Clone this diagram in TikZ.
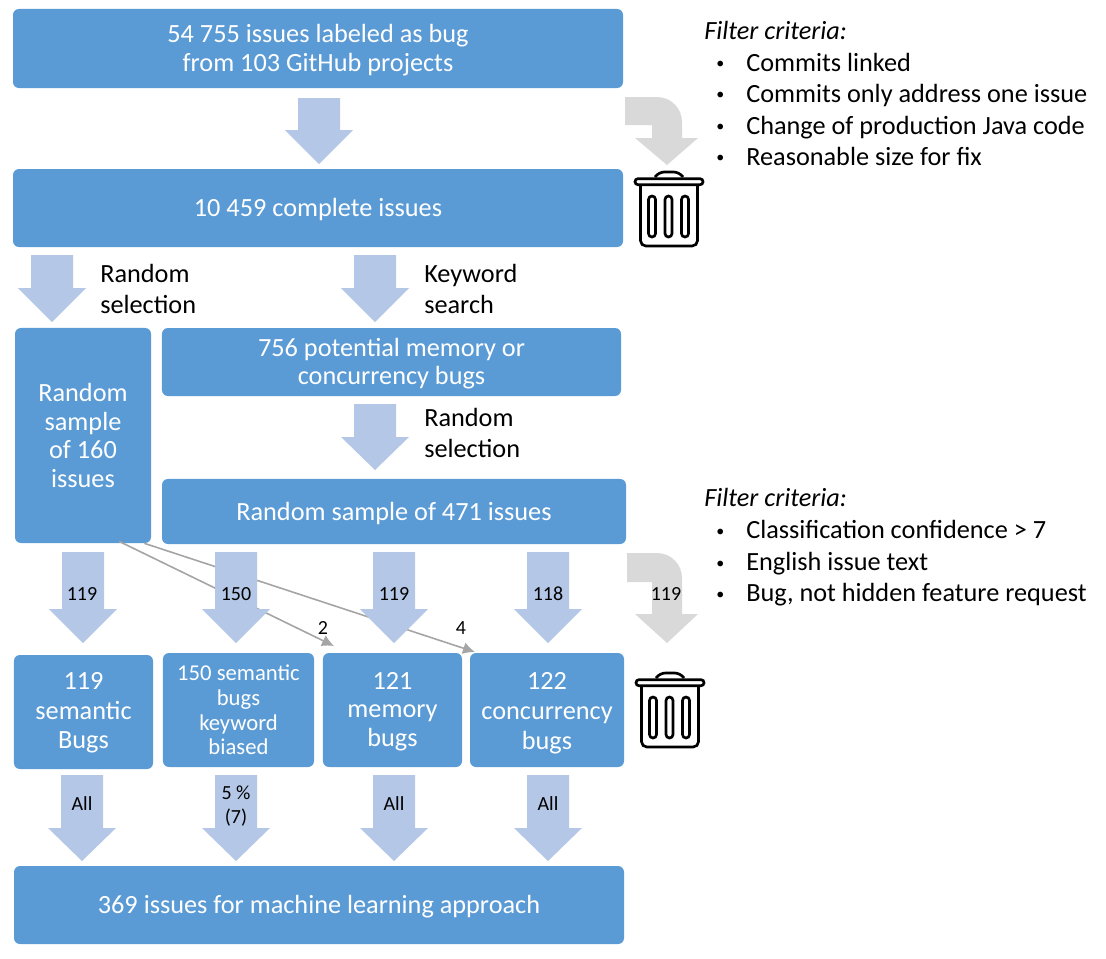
\documentclass[tikz,border=0pt]{standalone}
\usepackage{fontspec}
\setmainfont{Carlito}
\usetikzlibrary{arrows.meta}
\definecolor{boxblue}{HTML}{5B9BD5}
\definecolor{arrowblue}{HTML}{B4C7E7}
\definecolor{bingray}{HTML}{D9D9D9}
\definecolor{linegray}{HTML}{A5A5A5}
\tikzset{
  box/.style={fill=boxblue,rounded corners=4.5pt,inner sep=0pt},
  boxtext/.style={text=white,align=center,inner sep=0pt,font=\fontsize{19.7}{#1}\selectfont},
  smallboxtext/.style={text=white,align=center,inner sep=0pt,font=\fontsize{17}{18.4}\selectfont},
  blockarrow/.style={fill=arrowblue,draw=none},
  binarrow/.style={fill=bingray,draw=none},
  thin connector/.style={draw=linegray,line width=1.2pt,-{Latex[length=9pt,width=9pt]}},
  count/.style={font=\fontsize{15}{18}\selectfont,text=black,inner sep=0pt,align=center},
  side/.style={anchor=base west,inner sep=0pt,font=\fontsize{19.7}{22}\selectfont,text=black},
  dot/.style={anchor=base west,inner sep=0pt,font=\fontsize{12}{14}\selectfont,text=black},
  binline/.style={draw=black,line width=2pt,fill=none},
}
% x centre, y top, y head start, y tip
\newcommand{\blockarr}[4]{\fill[blockarrow] (#1-21,#2) -- (#1+21,#2) -- (#1+21,#3) -- (#1+34,#3) -- (#1,#4) -- (#1-34,#3) -- (#1-21,#3) -- cycle;}
% x left, y top, y shaft bottom, y head start, y tip
\newcommand{\binarr}[5]{\fill[binarrow] (#1,#2) -- (657,#2) to[out=0,in=90] (682,#2+25) -- (682,#4) -- (698,#4) -- (667,#5) -- (635,#4) -- (652,#4) -- (652,#3) -- (#1,#3) -- cycle;}
% dx dy
\newcommand{\bin}[2]{\begin{scope}[shift={(#1,#2)}]
  \draw[binline,rounded corners=2.2pt] (635,178.7) rectangle (703,184.7);
  \draw[binline,rounded corners=4pt] (655,177) -- (659,172) -- (679,172) -- (683,177);
  \draw[binline,rounded corners=4pt] (640.5,186) -- (640.5,246) -- (697.5,246) -- (697.5,186);
  \draw[binline,rounded corners=2.6pt] (648.5,196) rectangle (655.5,237);
  \draw[binline,rounded corners=2.6pt] (665,196) rectangle (672,237);
  \draw[binline,rounded corners=2.6pt] (681.5,196) rectangle (688.5,237);
\end{scope}}
\begin{document}
\begin{tikzpicture}[x=0.75pt,y=-0.75pt]
\useasboundingbox (0,0) rectangle (1106,958);
% boxes
\node[box,minimum width=457.5pt,minimum height=59.3pt,label={[boxtext=22,yshift=-1.1pt]center:{54 755 issues labeled as bug\\from 103 GitHub projects}}] (top) at (318,48.5) {};
\node[box,minimum width=457.5pt,minimum height=58.5pt,label={[boxtext=22,yshift=-0.75pt]center:{10 459 complete issues}}] (complete) at (318,208) {};
\node[box,minimum width=102pt,minimum height=161.3pt,label={[boxtext=21.4]center:{Random\\sample\\of 160\\issues}}] (rs) at (83,435.5) {};
\node[box,minimum width=344.3pt,minimum height=51pt,label={[boxtext=21,yshift=-1.1pt]center:{756 potential memory or\\concurrency bugs}}] (potential) at (391.5,362) {};
\node[box,minimum width=348pt,minimum height=48.8pt,label={[boxtext=22,yshift=-1.5pt]center:{Random sample of 471 issues}}] (rs471) at (394,511.5) {};
\node[box,minimum width=104.3pt,minimum height=85.5pt,label={[boxtext=22,yshift=-0.75pt]center:{119\\semantic\\Bugs}}] (sem) at (83.5,712) {};
\node[box,minimum width=113.3pt,minimum height=85.5pt,label={[smallboxtext]center:{150 semantic\\bugs\\keyword\\biased}}] (bias) at (238.5,710) {};
\node[box,minimum width=104.3pt,minimum height=85.5pt,label={[boxtext=21.5,yshift=-1.1pt]center:{121\\memory\\bugs}}] (mem) at (392.5,710) {};
\node[box,minimum width=115.5pt,minimum height=85.5pt,label={[boxtext=22.5,yshift=-2.2pt]center:{122\\concurrency\\bugs}}] (con) at (547,710) {};
\node[box,minimum width=457.5pt,minimum height=58.5pt,label={[boxtext=22,yshift=-1.5pt]center:{369 issues for machine learning approach}}] (ml) at (319,905) {};
% thin connectors
\coordinate (m2) at (334,646);
\coordinate (m4) at (475,652);
\draw[thin connector] ([xshift=27pt]rs.south) ++(0,1.5pt) -- (m2);
\draw[thin connector] ([xshift=46pt]rs.south) -- (m4);
% block arrows
\blockarr{319}{98}{130}{164}
\blockarr{52}{255}{288}{322}
\blockarr{375}{255}{288}{322}
\blockarr{375}{404}{437}{470}
\blockarr{83}{552}{609}{643}
\blockarr{236}{552}{609}{643}
\blockarr{394}{552}{609}{643}
\blockarr{548}{552}{609}{643}
\blockarr{82}{775}{828}{861}
\blockarr{236}{775}{828}{861}
\blockarr{394}{775}{828}{861}
\blockarr{548}{775}{828}{861}
\binarr{625}{97}{125}{138}{165}
\binarr{627}{553}{582}{614}{643}
\bin{0}{0}
\bin{1}{501}
% labels on arrows
\node[side] (l1) at (100,282.5) {Random};
\node[side] (l2) at (100,313.5) {selection};
\node[side] (l3) at (424,282.5) {Keyword};
\node[side] (l4) at (424,313.5) {search};
\node[side] (l5) at (424,426.5) {Random};
\node[side] (l6) at (424,457.5) {selection};
\node[count] (c1) at (82,594) {119};
\node[count] (c2) at (236,594) {150};
\node[count] (c3) at (394,594) {119};
\node[count] (c4) at (548,594) {118};
\node[count] (c5) at (666,594) {119};
\node[count] (c6) at (323,628) {2};
\node[count] (c7) at (461,628) {4};
\node[count] (a1) at (82,804) {All};
\node[count] (a2) at (236,806) {5 \%\\(7)};
\node[count] (a3) at (394,804) {All};
\node[count] (a4) at (548,804) {All};
% side lists
\node[side] (f1) at (704,39) {\itshape Filter criteria:};
\node[dot] (b1) at (716,68) {•};
\node[side] (t1) at (746,71) {Commits linked};
\node[dot] (b2) at (716,99) {•};
\node[side] (t2) at (746,102) {Commits only address one issue};
\node[dot] (b3) at (716,131) {•};
\node[side] (t3) at (746,134) {Change of production Java code};
\node[dot] (b4) at (716,162) {•};
\node[side] (t4) at (746,165) {Reasonable size for fix};
\node[side] (f2) at (704,506) {\itshape Filter criteria:};
\node[dot] (b5) at (716,536) {•};
\node[side] (t5) at (746,538.5) {Classification confidence > 7};
\node[dot] (b6) at (716,568) {•};
\node[side] (t6) at (746,570.5) {English issue text};
\node[dot] (b7) at (716,599) {•};
\node[side] (t7) at (746,601.5) {Bug, not hidden feature request};
\end{tikzpicture}
\end{document}
